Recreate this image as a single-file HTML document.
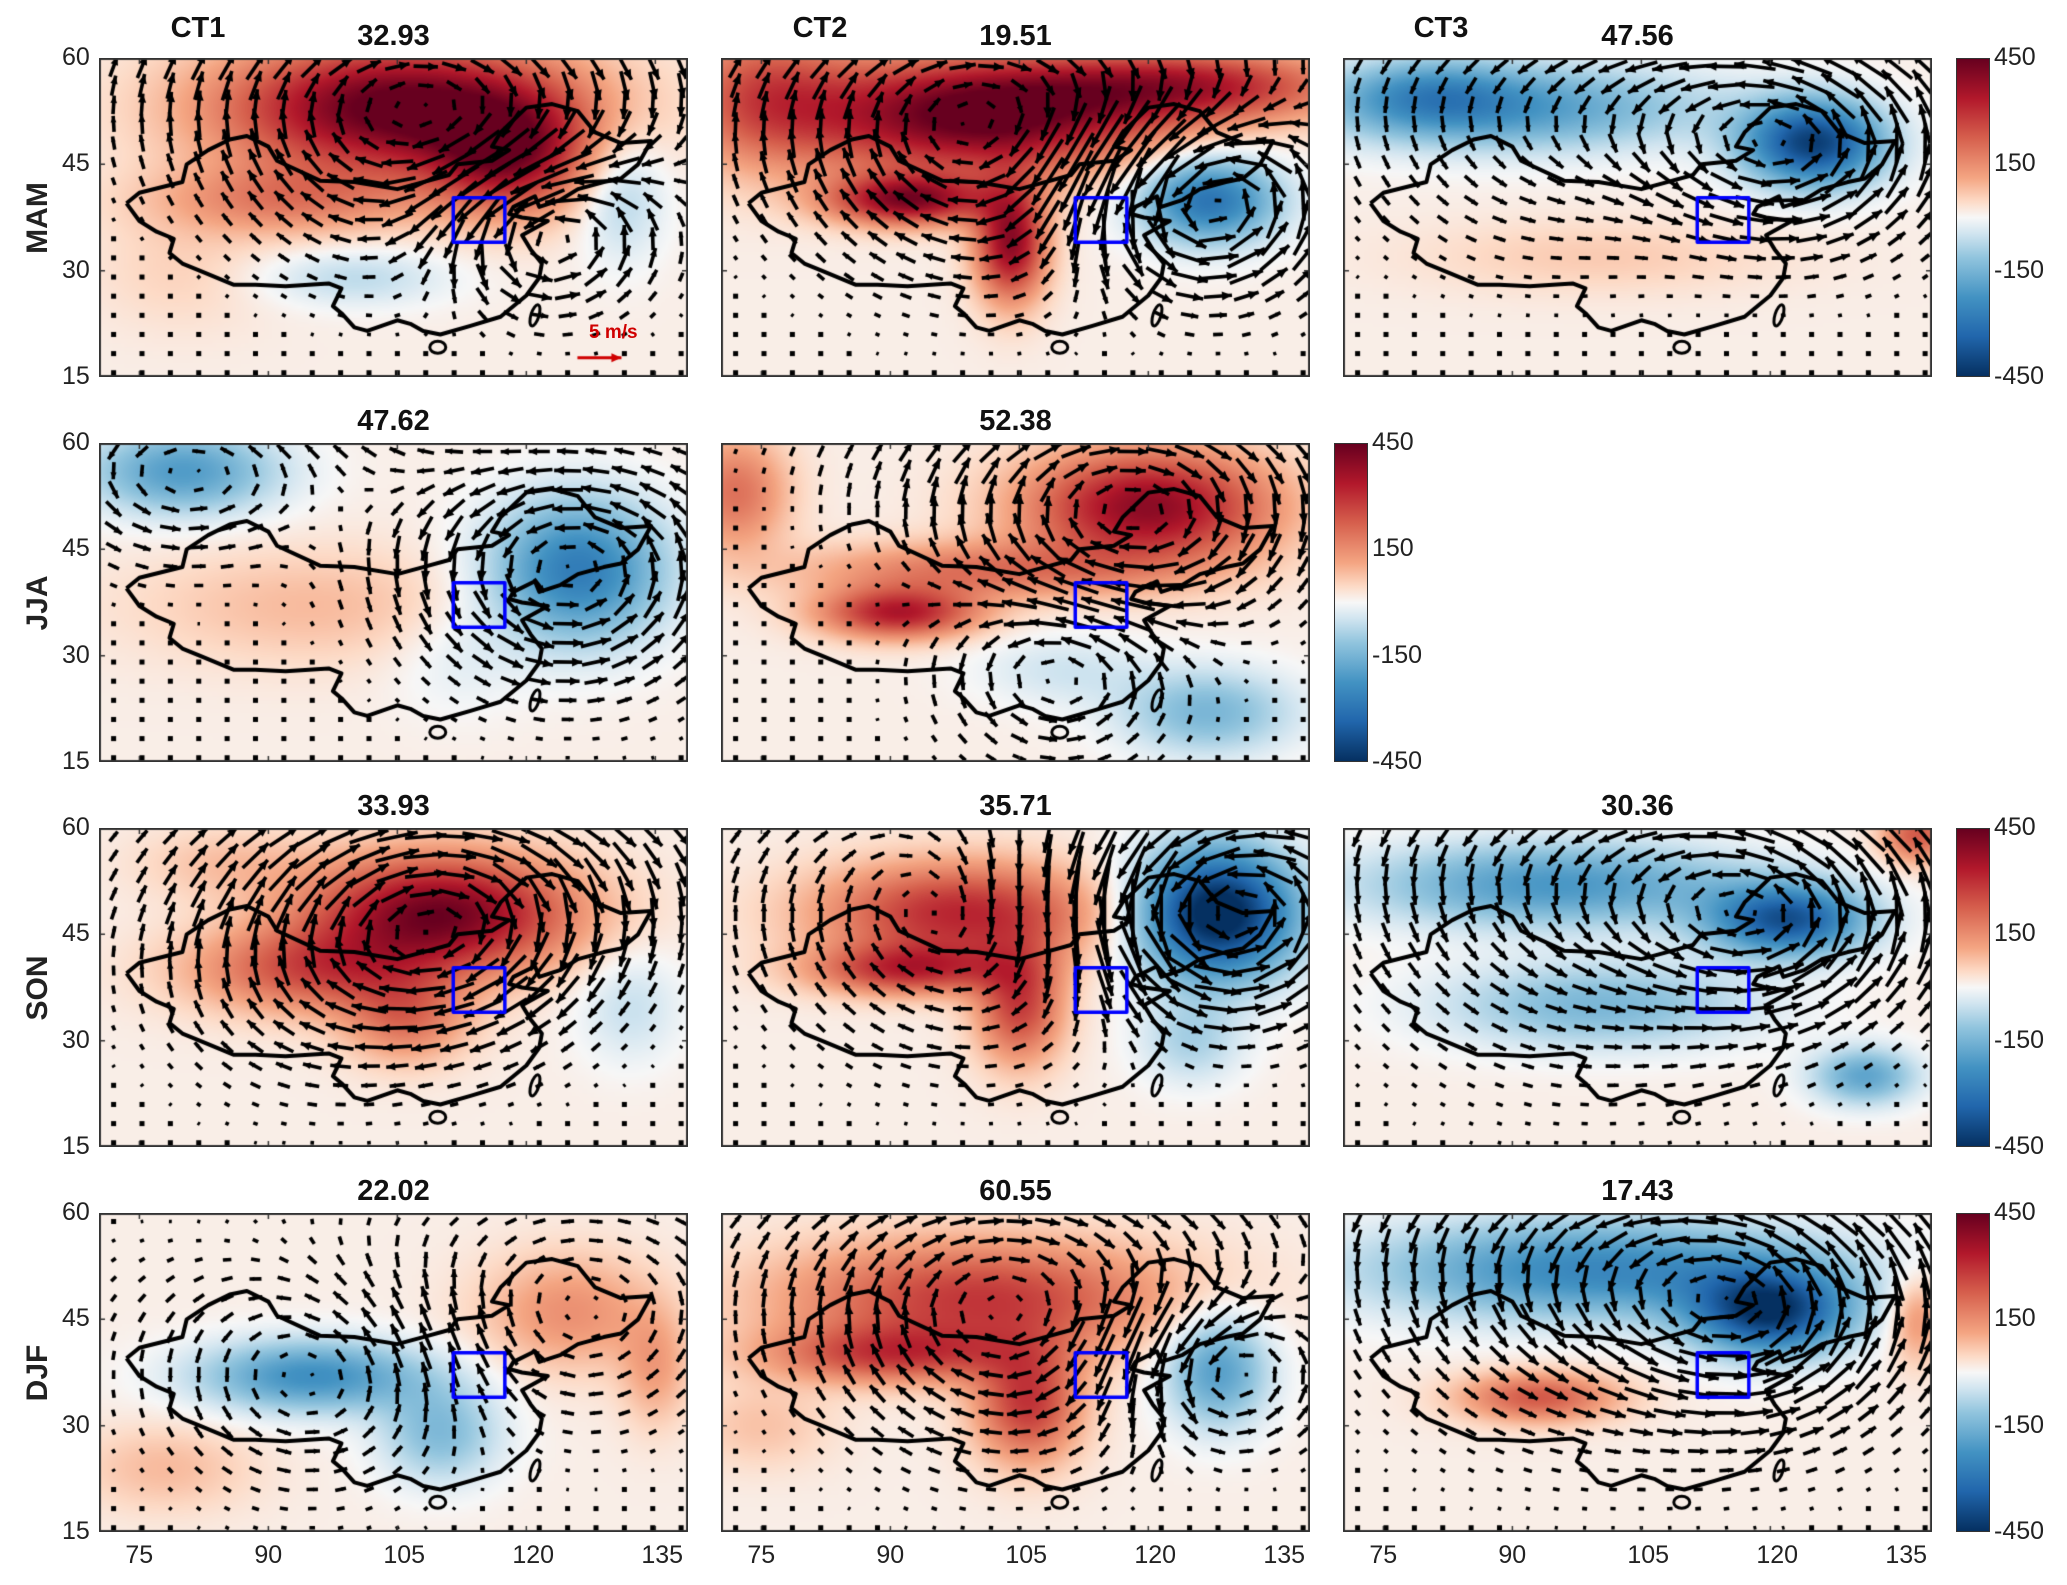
<!DOCTYPE html>
<html><head><meta charset="utf-8"><style>
body{margin:0;background:#fff;width:2067px;height:1585px;position:relative;overflow:hidden;font-family:"Liberation Sans",Arial,sans-serif;}
.t{position:absolute;font-weight:bold;font-size:29px;color:#111;white-space:nowrap;transform:translateX(-50%);}
.tk{position:absolute;font-size:25px;color:#222;white-space:nowrap;}
.rl{position:absolute;font-weight:bold;font-size:30px;color:#222;transform:translate(-50%,-50%) rotate(-90deg);}
canvas{position:absolute;}
.cb{position:absolute;width:32px;border:1px solid #333;background:linear-gradient(to bottom,#67001f,#b2182b 12.5%,#d6604d 25%,#f4a582 37.5%,#fddbc7 45%,#f7f7f7 50%,#d1e5f0 55%,#92c5de 62.5%,#4393c3 75%,#2166ac 87.5%,#053061);}
</style></head><body>
<div id="root"></div>
<script>
const W=589,H=319;
const colX=[99,721,1343];
const rowY=[58,443,828,1213];
const LON0=70.3,LON1=138.8,LAT0=15,LAT1=60;
const seasons=['MAM','JJA','SON','DJF'];
const ctNames=['CT1','CT2','CT3'];
const titles=[['32.93','19.51','47.56'],['47.62','52.38',null],['33.93','35.71','30.36'],['22.02','60.55','17.43']];
// blobs: [lon, lat, amplitude, rLon, rLat]
const blobs=[
 [[[105,53,460,20,9],[118,46,300,9,8],[92,40,150,15,5],[100,29,-80,11,4],[131,41,-100,5,9],[80,30,40,10,8]],
  [[100,52,460,20,8],[92,40,380,9,3.5],[104,34,380,4,8],[127,40,-320,8,6],[125,56,300,18,5],[75,55,200,10,10]],
  [[90,53,-220,22,6],[125,48,-430,8,6],[100,32,50,20,5],[80,55,-150,10,5]]],
 [[[80,56,-220,11,6],[126,42,-300,10,10],[95,37,70,20,8],[112,30,-40,8,8]],
  [[120,51,380,14,8],[91,36,320,9,3.5],[100,42,170,20,4],[127,22,-160,10,6],[72,53,180,6,8],[110,28,-60,10,5]],
  null],
 [[[110,48,420,15,8],[95,40,220,14,6],[106,33,170,7,6],[132,35,-70,6,8],[85,55,60,10,5]],
  [[98,48,300,16,7],[92,40,260,11,3.5],[105,35,260,5,8],[128,48,-520,9,9],[125,30,-100,6,6]],
  [[95,52,-230,22,6],[122,47,-380,9,5],[100,35,-160,18,6],[131,25,-200,6,4],[137,59,220,4,4]]],
 [[[95,37,-250,13,5],[125,46,130,10,8],[110,29,-150,7,7],[78,24,70,10,6],[135,38,100,4,8]],
  [[100,48,270,22,8],[90,40,220,14,4],[106,33,270,6,8],[128,38,-220,6,8],[75,30,60,8,6]],
  [[100,52,-270,26,7],[120,46,-420,9,6],[93,34,220,9,3.5],[137,45,130,3,6]]]
];
// vortices for wind: [lon, lat, strength(m/s), radius(deg)] positive = clockwise
const vort=[
 [[[108,52,6,12],[122,36,-7,7]],[[102,50,6,12],[126,40,-9,8]],[[123,48,-7,9],[95,52,-3,12]]],
 [[[125,42,-6,10],[80,56,-4,8]],[[118,50,6,10],[110,28,-4,8]],null],
 [[[112,47,7,10],[96,40,3,10]],[[128,48,-10,9],[100,48,4,12]],[[122,47,-6,9],[100,52,-4,15]]],
 [[[125,46,3,10],[95,37,-3,10]],[[104,46,5,12],[128,38,-5,7]],[[120,46,-6,10],[100,52,-4,14]]]
];
const china=[[73.5,39.5],[75,41],[80,42.5],[80.5,45],[83,47],[85.5,48.5],[87.5,49],[90,47.5],[91,45.5],[96,42.7],[100,42.5],[105,41.5],[108,42.5],[111,43.5],[112,45],[116,45.5],[118,47],[116,47.5],[117,49.5],[120,53],[123,53.5],[126,52.5],[128,49.5],[131,48],[134.5,48.3],[133,45],[131,43],[129,42.5],[126,41.5],[124,40],[121.5,39],[121,40.5],[118.5,39],[118,38],[119.5,37.5],[122.5,37],[119.5,35],[120.5,33],[121.8,31],[121.5,29],[120,26.5],[117,23.5],[113.5,22.2],[110,21],[108,21.5],[106.5,22.5],[105,23],[101.5,21.5],[100,22],[98.5,24],[97.5,25],[98.5,27.5],[97,28.2],[92,27.8],[88.5,28],[86,28],[82,30],[80,31],[78.5,32.5],[79,34.5],[77,35.5],[75,37],[73.5,39.5]];
const box=[111.5,117.5,34,40.3];
const xTicks=[75,90,105,120,135];
const yTicks=[60,45,30,15];
const cbTicks=[450,150,-150,-450];

const stops=[[-1,[5,48,97]],[-.75,[33,102,172]],[-.5,[67,147,195]],[-.25,[146,197,222]],[-.1,[209,229,240]],[0,[247,247,247]],[.1,[253,219,199]],[.25,[244,165,130]],[.5,[214,96,77]],[.75,[178,24,43]],[1,[103,0,31]]];
function cmap(v){v=Math.max(-1,Math.min(1,v));for(let i=1;i<stops.length;i++){if(v<=stops[i][0]){const a=stops[i-1],b=stops[i],t=(v-a[0])/(b[0]-a[0]);return a[1].map((c,k)=>Math.round(c+(b[1][k]-c)*t));}}return stops[stops.length-1][1];}
const sx=lon=>(lon-LON0)/(LON1-LON0)*W;
const sy=lat=>(LAT1-lat)/(LAT1-LAT0)*H;
function addText(cls,txt,x,y,name){const d=document.createElement('div');d.className=cls;d.textContent=txt;d.style.left=x+'px';d.style.top=y+'px';


document.body.appendChild(d);return d;}
function arrow(ctx,x,y,dx,dy,color,lw){const L=Math.hypot(dx,dy);if(L<2.5){ctx.fillStyle=color;ctx.fillRect(x-2.5,y-2.5,5,5);return;}
ctx.strokeStyle=color;ctx.fillStyle=color;ctx.lineWidth=lw;ctx.beginPath();ctx.moveTo(x-dx/2,y-dy/2);ctx.lineTo(x+dx/2,y+dy/2);ctx.stroke();
const ux=dx/L,uy=dy/L,h=Math.min(10,L*0.4);ctx.beginPath();ctx.moveTo(x+dx/2,y+dy/2);ctx.lineTo(x+dx/2-ux*h-uy*h*0.45,y+dy/2-uy*h+ux*h*0.45);ctx.lineTo(x+dx/2-ux*h+uy*h*0.45,y+dy/2-uy*h-ux*h*0.45);ctx.closePath();ctx.fill();}
for(let r=0;r<4;r++)for(let c=0;c<3;c++){
 const bl=blobs[r][c];if(!bl)continue;
 const cv=document.createElement('canvas');cv.width=W;cv.height=H;cv.style.left=colX[c]+'px';cv.style.top=rowY[r]+'px';
 
 
 document.body.appendChild(cv);
 const ctx=cv.getContext('2d');
 const sw=148,sh=80,off=document.createElement('canvas');off.width=sw;off.height=sh;const oc=off.getContext('2d');const img=oc.createImageData(sw,sh);
 for(let j=0;j<sh;j++)for(let i=0;i<sw;i++){const lon=LON0+(i+.5)/sw*(LON1-LON0),lat=LAT1-(j+.5)/sh*(LAT1-LAT0);let v=15;
  for(const b of bl){const dx=(lon-b[0])/b[3],dy=(lat-b[1])/b[4];v+=b[2]*Math.exp(-(dx*dx+dy*dy));}
  const col=cmap(v/450),k=(j*sw+i)*4;img.data[k]=col[0];img.data[k+1]=col[1];img.data[k+2]=col[2];img.data[k+3]=255;}
 oc.putImageData(img,0,0);ctx.imageSmoothingEnabled=true;ctx.drawImage(off,0,0,W,H);
 const vs=vort[r][c]||[];
 for(let lat=58.8;lat>15;lat-=2.7)for(let lon=72;lon<138.5;lon+=3.3){let u=0,v=0;
  for(const q of vs){const dx=(lon-q[0])*Math.cos(lat*Math.PI/180),dy=lat-q[1],d=Math.hypot(dx,dy)/q[3];const s=q[2]*d*Math.exp(-d*d*0.5)/ (Math.hypot(dx,dy)||1);u+=s*dy;v+=-s*dx;}
  const sc=8.6;arrow(ctx,sx(lon),sy(lat),u*sc,-v*sc,'#000',3.6);}
 ctx.strokeStyle='#000';ctx.lineWidth=4;ctx.lineJoin='round';ctx.beginPath();china.forEach((p,i)=>i?ctx.lineTo(sx(p[0]),sy(p[1])):ctx.moveTo(sx(p[0]),sy(p[1])));ctx.stroke();
 ctx.lineWidth=3;ctx.beginPath();ctx.ellipse(sx(109.7),sy(19.2),8,6,0,0,7);ctx.stroke();
 ctx.beginPath();ctx.ellipse(sx(121),sy(23.7),4,11,0.3,0,7);ctx.stroke();
 ctx.strokeStyle='#0000ff';ctx.lineWidth=3.5;ctx.strokeRect(sx(box[0]),sy(box[3]),sx(box[1])-sx(box[0]),sy(box[2])-sy(box[3]));
 ctx.strokeStyle='#333';ctx.lineWidth=1.5;xTicks.forEach(t=>{ctx.beginPath();ctx.moveTo(sx(t),H);ctx.lineTo(sx(t),H-6);ctx.moveTo(sx(t),0);ctx.lineTo(sx(t),6);ctx.stroke();});
 yTicks.forEach(t=>{ctx.beginPath();ctx.moveTo(0,sy(t));ctx.lineTo(6,sy(t));ctx.moveTo(W,sy(t));ctx.lineTo(W-6,sy(t));ctx.stroke();});
 ctx.strokeStyle='#333';ctx.lineWidth=2;ctx.strokeRect(1,1,W-2,H-2);
 if(r===0&&c===0){arrow(ctx,sx(128.5),sy(17.7),44,0,'#d00000',3);}
 addText('t',titles[r][c],colX[c]+W/2,rowY[r]-38,'panel-title-'+seasons[r].toLowerCase()+'-'+ctNames[c].toLowerCase());
}
addText('tk','5 m/s',589,322,'wind-scale-label').style.cssText+='color:#d00000;font-weight:bold;font-size:19px;';
ctNames.forEach((n,c)=>addText('t',n,[198,820,1441][c],12,'column-label-'+n.toLowerCase()));
seasons.forEach((s,r)=>{addText('rl',s,38,rowY[r]+H/2,'row-label-'+s.toLowerCase());});
rowY.forEach((y,r)=>yTicks.forEach(t=>{addText('tk',String(t),62,y+sy(t)-15,'y-tick-'+t);}));
colX.forEach(x=>xTicks.forEach(t=>{addText('tk',String(t),x+sx(t)-14,1541,'x-tick-'+t);}));
const cbs=[[1956,58],[1334,443],[1956,828],[1956,1213]];
cbs.forEach((p,i)=>{const d=document.createElement('div');d.className='cb';d.style.left=p[0]+'px';d.style.top=p[1]+'px';d.style.height=(H-2)+'px';
 
 
 document.body.appendChild(d);
 cbTicks.forEach((t,k)=>addText('tk',String(t),p[0]+38,p[1]+k*H/3-15,'colorbar-tick-'+t));});
</script>
</body></html>
